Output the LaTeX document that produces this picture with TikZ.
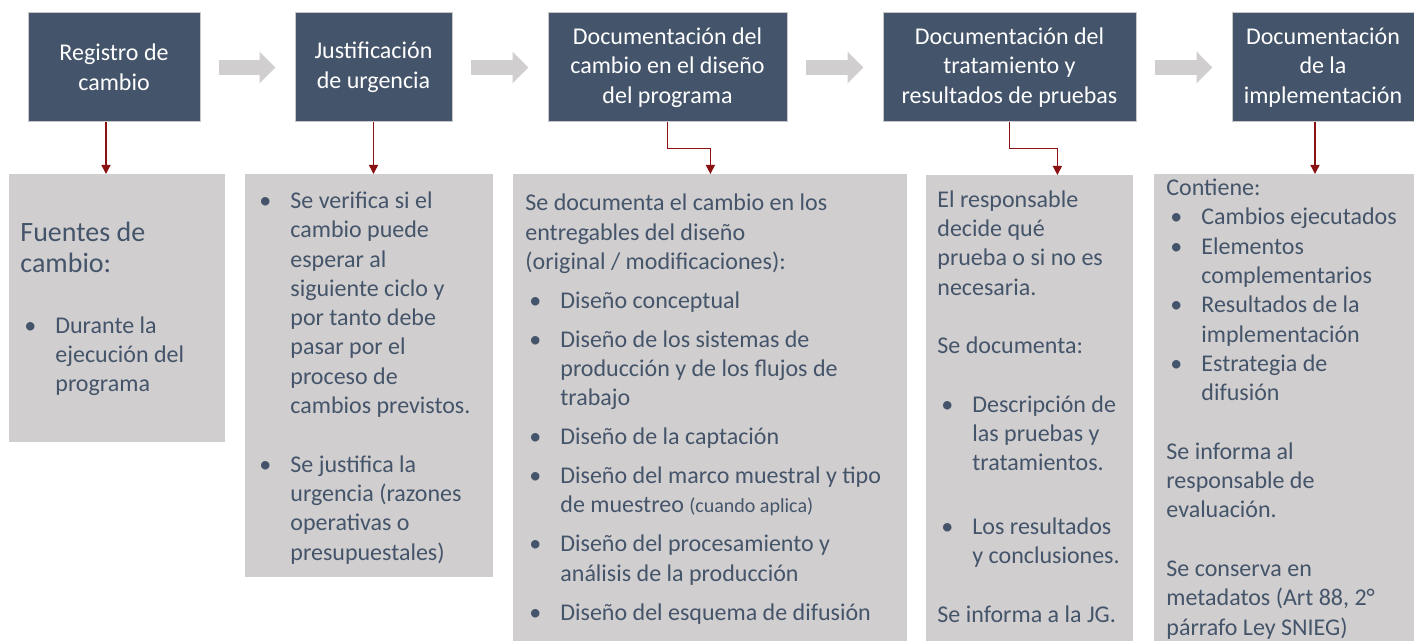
\documentclass[tikz,border=0pt]{standalone}
\usepackage{fontspec}
\setmainfont{Carlito}
\usepackage{xcolor}
\usepackage{tikz}
\usetikzlibrary{positioning,calc,arrows.meta}
\definecolor{pizarra}{HTML}{44546A}
\definecolor{grisclaro}{HTML}{D0CECE}
\definecolor{rojo}{RGB}{139,18,18}
\newcommand{\bul}{\makebox[17.5pt][l]{\hspace{2pt}\textbullet}}
\newcommand{\sang}{\hspace*{17.5pt}}
\tikzset{
  flechagris/.style={draw=grisclaro,line width=7.5pt,
    -{Triangle[length=8pt,width=15.5pt]},shorten <=9pt,shorten >=9.5pt},
  flecharoja/.style={draw=rojo,line width=0.7pt,
    -{Triangle[length=4.5pt,width=4.5pt]}}}

\begin{document}
\begin{tikzpicture}[x=0.5pt,y=-0.5pt]
        \useasboundingbox (0,0) rectangle (1414,641);
        \begin{scope}[every node/.style={rectangle,fill=pizarra,draw=white!78!black,line width=0.5pt,
            text=white,align=center,font=\fontsize{12}{14.75}\selectfont,minimum height=54.5pt,inner sep=2pt}]
            \node[minimum width=86pt] (registro) at (114,67.5) {Registro de\\cambio};
            \node[minimum width=78.5pt] (justificacion) at (373.5,67.5) {Justificación\\de urgencia};
            \node[minimum width=119.5pt] (docdiseno) at (667.5,67.5) {Documentación del\\cambio en el diseño\\del programa};
            \node[minimum width=126.5pt] (doctratamiento) at (1009.5,67.5) {Documentación del\\tratamiento y\\resultados de pruebas};
            \node[minimum width=91pt] (docimplementacion) at (1323,67.5) {Documentación\\de la\\implementación};
        \end{scope}
        \begin{scope}[every node/.style={rectangle,fill=grisclaro,anchor=north west,inner sep=0pt}]
            \node[minimum width=108pt,minimum height=134pt] (fuentes) at (9,174) {};
            \node[minimum width=124pt,minimum height=201.5pt] (urgencia) at (245,174) {};
            \node[minimum width=197pt,minimum height=233.5pt] (entregables) at (513,174) {};
            \node[minimum width=103.5pt,minimum height=233pt] (pruebas) at (926,175) {};
            \node[minimum width=130pt,minimum height=233.5pt] (contenido) at (1154,174) {};
        \end{scope}
        \path (registro) edge[flechagris] (justificacion);
        \path (justificacion) edge[flechagris] (docdiseno);
        \path (docdiseno) edge[flechagris] (doctratamiento);
        \path (doctratamiento) edge[flechagris] (docimplementacion);
        \path ([xshift=-4pt]registro.south) edge[flecharoja] ([xshift=-4pt]registro.south |- fuentes.north);
        \path (justificacion.south) edge[flecharoja] (justificacion.south |- urgencia.north);
        \draw[flecharoja] (docdiseno.south) -- ++(0,26) -| (entregables.north);
        \draw[flecharoja] (doctratamiento.south) -- ++(0,26) -| ([xshift=13.75pt]pruebas.north);
        \path ([xshift=-4pt]docimplementacion.south) edge[flecharoja] ([xshift=-4pt]docimplementacion.south |- contenido.north);
        \begin{scope}[every node/.style={anchor=base west,align=left,inner sep=0pt,text=pizarra,
            font=\fontsize{12}{14.65}\selectfont}]
            \node[font=\fontsize{14}{15.5}\selectfont] (tfuentes) at (20,273) {Fuentes de\\cambio:};
            \node (tdurante) at (20,392) {\bul Durante la\\\sang ejecución del\\\sang programa};
            \node (turgencia) at (255,560) {\bul Se verifica si el\\\sang cambio puede\\\sang esperar al\\
                \sang siguiente ciclo y\\\sang por tanto debe\\\sang pasar por el\\\sang proceso de\\
                \sang cambios previstos.\\[14.65pt]
                \bul Se justifica la\\\sang urgencia (razones\\\sang operativas o\\\sang presupuestales)};
            \node (tentregables) at (525,620) {Se documenta el cambio en los\\entregables del diseño\\
                (original / modificaciones):\\[4.8pt]
                \bul Diseño conceptual\\[4.8pt]
                \bul Diseño de los sistemas de\\\sang producción y de los flujos de\\\sang trabajo\\[4.8pt]
                \bul Diseño de la captación\\[4.8pt]
                \bul Diseño del marco muestral y tipo\\\sang de muestreo {\fontsize{10}{12}\selectfont(cuando aplica)}\\[4.8pt]
                \bul Diseño del procesamiento y\\\sang análisis de la producción\\[4.8pt]
                \bul Diseño del esquema de difusión};
            \node (tpruebas) at (937,622) {El responsable\\decide qué\\prueba o si no es\\necesaria.\\[14.65pt]
                Se documenta:\\[14.65pt]
                \bul Descripción de\\\sang las pruebas y\\\sang tratamientos.\\[17pt]
                \bul Los resultados\\\sang y conclusiones.\\[14.65pt]
                Se informa a la JG.};
            \node (tcontenido) at (1166,635) {Contiene:\\
                \bul Cambios ejecutados\\\bul Elementos\\\sang complementarios\\
                \bul Resultados de la\\\sang implementación\\\bul Estrategia de\\\sang difusión\\[14.65pt]
                Se informa al\\responsable de\\evaluación.\\[14.65pt]
                Se conserva en\\metadatos (Art 88, 2°\\párrafo Ley SNIEG)};
        \end{scope}
\end{tikzpicture}
\end{document}
